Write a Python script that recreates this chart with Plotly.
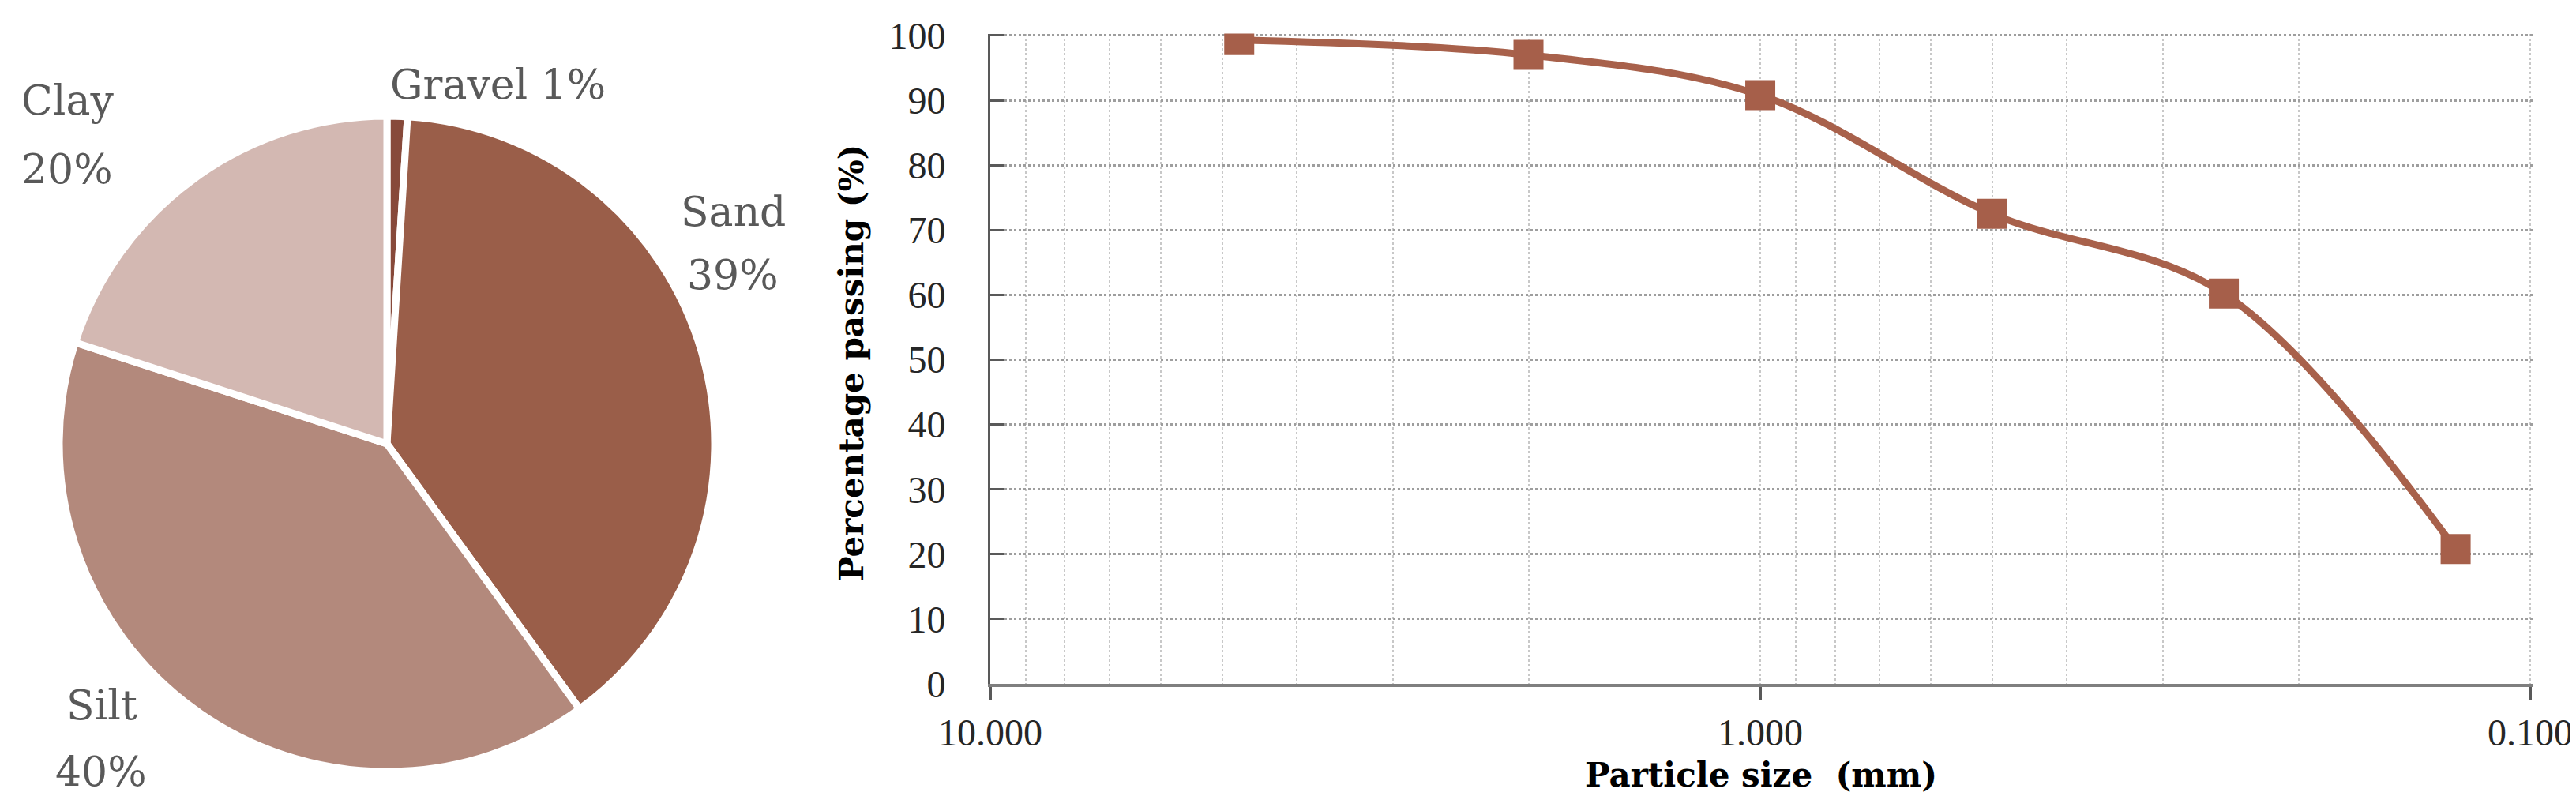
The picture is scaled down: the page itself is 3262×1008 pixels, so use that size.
import plotly.graph_objects as go

# ---------------- data ----------------
soil_fractions = ["Gravel", "Sand", "Silt", "Clay"]
fraction_pct = [1, 39, 40, 20]
fraction_colors = ["#87493A", "#9A5E49", "#B3897C", "#D3B8B2"]

particle_size_mm = [4.75, 2.0, 1.0, 0.5, 0.25, 0.125]
percent_passing = [99.3, 97.0, 90.8, 72.5, 60.2, 20.8]

x_tick_vals = [10, 1, 0.1]
x_tick_text = ["10.000", "1.000", "0.100"]
x_minor_vals = [9, 8, 7, 6, 5, 4, 3, 2, 0.9, 0.8, 0.7, 0.6, 0.5, 0.4, 0.3, 0.2, 0.1]
y_tick_vals = [0, 10, 20, 30, 40, 50, 60, 70, 80, 90, 100]

W, H = 3262, 1008


def px(x):
    return x / W


def py(y):
    return 1 - y / H


fig = go.Figure()

# ---------------- pie ----------------
cx, cy, r = 482, 554, 415
fig.add_trace(go.Pie(
    labels=soil_fractions,
    values=fraction_pct,
    sort=False,
    direction="clockwise",
    rotation=0,
    textinfo="none",
    hoverinfo="label+percent",
    automargin=False,
    marker=dict(colors=fraction_colors, line=dict(color="white", width=9)),
    domain=dict(x=[px(cx - r), px(cx + r)], y=[py(cy + r), py(cy - r)]),
    showlegend=False,
))

# ---------------- grading curve ----------------
line_color = "#A8614B"
fig.add_trace(go.Scatter(
    x=particle_size_mm,
    y=percent_passing,
    mode="lines+markers",
    line=dict(color=line_color, width=9, shape="spline", smoothing=1.0),
    marker=dict(symbol="square", size=38, color="#A65F4A"),
    showlegend=False,
    xaxis="x", yaxis="y",
))

tick_font = dict(family="Liberation Serif", size=48, color="#262626")

fig.update_layout(
    width=W, height=H,
    autosize=False,
    margin=dict(l=0, r=0, t=0, b=0, pad=0, autoexpand=False),
    paper_bgcolor="white",
    plot_bgcolor="white",
    xaxis=dict(
        type="log",
        range=[1, -1.003],
        domain=[px(1246), px(3199)],
        automargin=False,
        tickmode="array",
        tickvals=x_tick_vals,
        ticktext=x_tick_text,
        ticks="outside", ticklen=16, tickwidth=3, tickcolor="#595959",
        ticklabelstandoff=0,
        showline=True, linecolor="#7F7F7F", linewidth=4,
        showgrid=True, gridcolor="#C8C8C8", griddash="dot", gridwidth=2,
        minor=dict(tickmode="array", tickvals=x_minor_vals, showgrid=True,
                   gridcolor="#C8C8C8", griddash="dot", gridwidth=2, ticks=""),
        zeroline=False,
        tickfont=tick_font,
        anchor="y",
    ),
    yaxis=dict(
        range=[0, 100.3],
        domain=[py(858), py(34.5)],
        automargin=False,
        tickmode="array",
        tickvals=y_tick_vals,
        ticks="inside", ticklen=18, tickwidth=3, tickcolor="#595959",
        ticklabelstandoff=44,
        showline=True, linecolor="#595959", linewidth=3,
        showgrid=True, gridcolor="#9E9E9E", griddash="dot", gridwidth=3,
        zeroline=False,
        tickfont=tick_font,
        anchor="x",
    ),
)

# ---------------- annotations ----------------
label_font = dict(family="DejaVu Serif", size=52, color="#595959")
pct = dict(zip(soil_fractions, fraction_pct))

label_lines = [
    (f"Gravel {pct['Gravel']}%", 622, 99),
    ("Clay", 77, 119),
    (f"{pct['Clay']}%", 77, 206),
    ("Sand", 920, 260),
    (f"{pct['Sand']}%", 920, 340),
    ("Silt", 121, 885),
    (f"{pct['Silt']}%", 120, 969),
]
annotations = []
for text, x, y in label_lines:
    annotations.append(dict(
        text=text, x=px(x), y=py(y), xref="paper", yref="paper",
        xanchor="center", yanchor="middle", showarrow=False, font=label_font,
    ))

title_font = dict(family="DejaVu Serif", size=42, color="#000000", weight="bold")
annotations.append(dict(
    text="Particle size\u00a0 (mm)", x=px(2222), y=py(973), xref="paper", yref="paper",
    xanchor="center", yanchor="middle", showarrow=False, font=title_font,
))
annotations.append(dict(
    text="Percentage passing (%)", x=px(1071), y=py(452), xref="paper", yref="paper",
    xanchor="center", yanchor="middle", showarrow=False, font=title_font, textangle=-90,
))
fig.update_layout(annotations=annotations)

fig.write_html("out.html")
